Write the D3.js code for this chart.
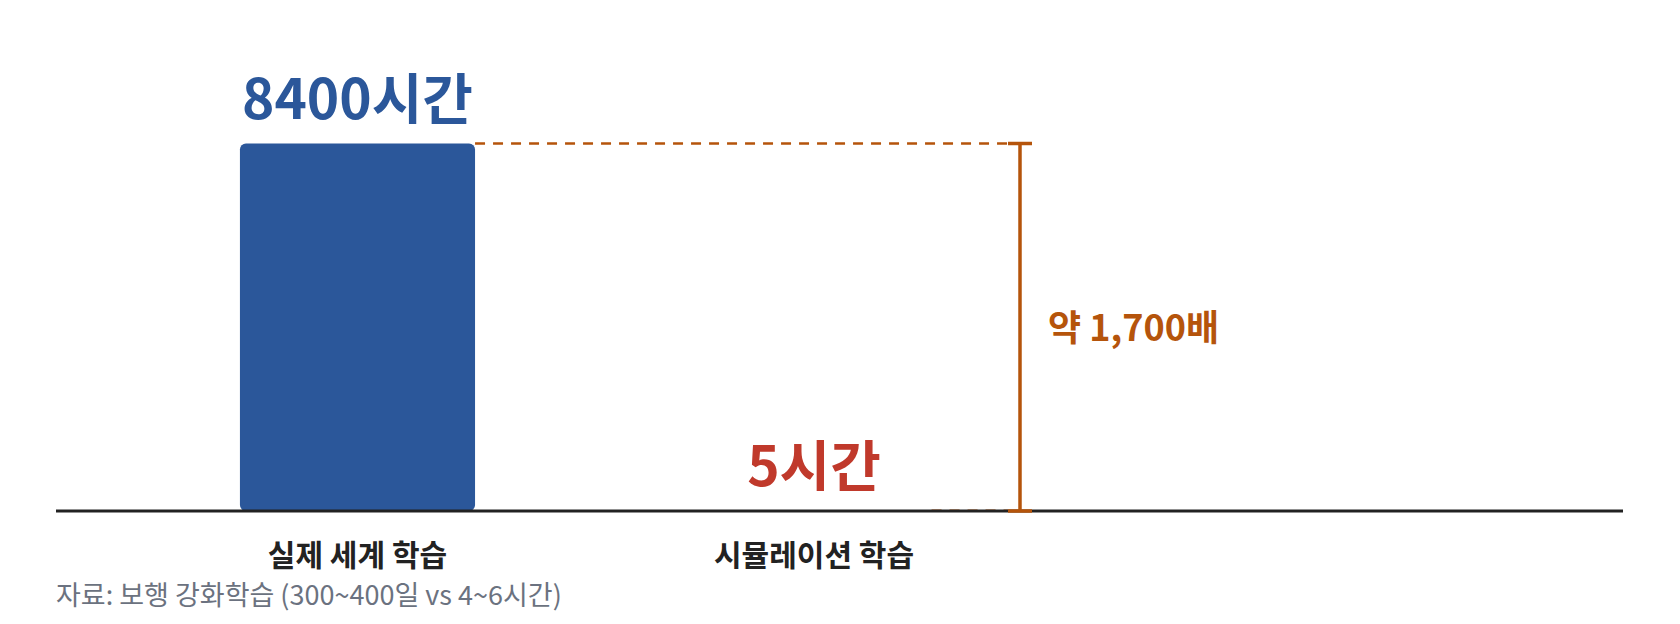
<!DOCTYPE html>
<html>
<head>
<meta charset="utf-8">
<script src="https://cdn.jsdelivr.net/npm/d3@7"></script>
<style>
  body { margin: 0; background: #fff; }
  text { font-family: "Noto Sans CJK KR", "Noto Sans", sans-serif; }
</style>
</head>
<body>
<svg width="1680" height="624"></svg>
<script>
// 데이터
var categories = ["실제 세계 학습", "시뮬레이션 학습"];
var hours = [8400, 5];
var valueLabels = ["8400시간", "5시간"];
var labelColors = ["#2b579a", "#c0392b"];
var ratioLabel = "약 1,700배";
var sourceNote = "자료: 보행 강화학습 (300~400일 vs 4~6시간)";

var svg = d3.select("svg");
var accent = "#b5540b";

var x = d3.scaleBand()
    .domain(categories)
    .range([129, 1042.5])
    .paddingInner(0.485)
    .paddingOuter(0.243);

var y = d3.scaleLinear()
    .domain([0, 8400])
    .range([511, 143.5]);

// 막대
svg.selectAll("rect.bar")
    .data(hours)
    .enter()
    .append("rect")
    .attr("class", "bar")
    .attr("x", function(d, i) { return x(categories[i]); })
    .attr("y", function(d) { return y(d); })
    .attr("width", x.bandwidth())
    .attr("height", function(d) { return y(0) - y(d); })
    .attr("rx", 6)
    .attr("fill", "#2b579a");

// 값 라벨
svg.selectAll("text.val")
    .data(hours)
    .enter()
    .append("text")
    .attr("class", "val")
    .attr("x", function(d, i) { return x(categories[i]) + x.bandwidth() / 2; })
    .attr("y", function(d) { return y(d) - 25; })
    .attr("text-anchor", "middle")
    .attr("font-size", 55)
    .attr("font-weight", 700)
    .attr("fill", function(d, i) { return labelColors[i]; })
    .text(function(d, i) { return valueLabels[i]; });

// 비교 브래킷
var bx = 1020;
hours.forEach(function(d, i) {
    svg.append("line")
        .attr("x1", x(categories[i]) + x.bandwidth())
        .attr("x2", bx - 12)
        .attr("y1", y(d))
        .attr("y2", y(d))
        .attr("stroke", accent)
        .attr("stroke-width", 2.5)
        .attr("stroke-dasharray", "10,8");
});

// x축
svg.append("line")
    .attr("x1", 56).attr("x2", 1623)
    .attr("y1", y(0)).attr("y2", y(0))
    .attr("stroke", "#222")
    .attr("stroke-width", 3);

svg.append("line")
    .attr("x1", bx).attr("x2", bx)
    .attr("y1", y(hours[0])).attr("y2", y(0))
    .attr("stroke", accent)
    .attr("stroke-width", 3.5);
[hours[0], 0].forEach(function(d) {
    svg.append("line")
        .attr("x1", bx - 12).attr("x2", bx + 12)
        .attr("y1", y(d)).attr("y2", y(d))
        .attr("stroke", accent)
        .attr("stroke-width", 3.5);
});

svg.append("text")
    .attr("x", 1048)
    .attr("y", 341)
    .attr("font-size", 36)
    .attr("font-weight", 700)
    .attr("fill", accent)
    .text(ratioLabel);

// 카테고리 라벨
svg.selectAll("text.cat")
    .data(categories)
    .enter()
    .append("text")
    .attr("class", "cat")
    .attr("x", function(d) { return x(d) + x.bandwidth() / 2; })
    .attr("y", 566)
    .attr("text-anchor", "middle")
    .attr("font-size", 30)
    .attr("font-weight", 700)
    .attr("fill", "#222")
    .text(function(d) { return d; });

// 출처
svg.append("text")
    .attr("x", 56)
    .attr("y", 605)
    .attr("font-size", 27)
    .attr("fill", "#6b7280")
    .text(sourceNote);
</script>
</body>
</html>
